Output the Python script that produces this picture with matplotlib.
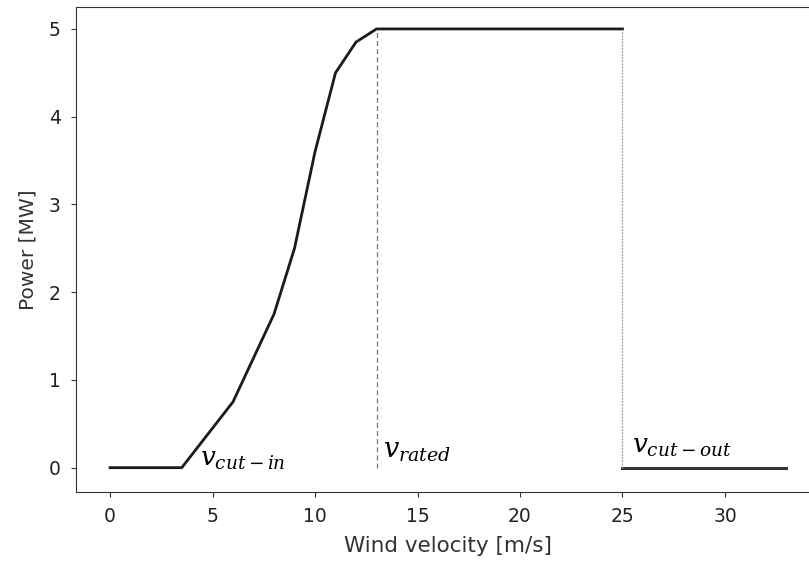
import matplotlib
matplotlib.use("Agg")
import matplotlib.pyplot as plt

# Data
wind_speed = [0, 3.5, 6, 8, 9, 10, 11, 12, 13, 25]
power_mw = [0, 0, 0.75, 1.75, 2.5, 3.6, 4.5, 4.85, 5, 5]
cutout_speed = [25, 33]
cutout_power = [0, 0]
v_rated = 13
v_cutout = 25
xticks = [0, 5, 10, 15, 20, 25, 30]
yticks = [0, 1, 2, 3, 4, 5]

plt.rcParams['mathtext.fontset'] = 'dejavuserif'

fig = plt.figure(figsize=(8.09, 5.67), dpi=100)
ax = fig.add_axes([76.2/809, (567-491.7)/567, (820.3-76.2)/809, (491.7-7)/567])

ax.plot(wind_speed, power_mw, color='#1a1a1a', lw=2)
ax.plot(cutout_speed, cutout_power, color='#333333', lw=2.2)
ax.vlines(v_rated, 0, 5, colors='#777777', linestyles=(0, (4, 2.5)), lw=0.9)
ax.vlines(v_cutout, 0, 5, colors='#999999', linestyles=(0, (1.5, 1)), lw=0.9)

ax.text(4.39, 0.02, r'$v_{cut-in}$', fontsize=19, va='baseline', ha='left')
ax.text(13.3, 0.12, r'$v_{rated}$', fontsize=19.5, va='baseline', ha='left')
ax.text(25.46, 0.17, r'$v_{cut-out}$', fontsize=19, va='baseline', ha='left')

ax.set_xlim(-1.65, 34.65)
ax.set_ylim(-0.274, 5.25)
ax.set_xticks(xticks)
ax.set_yticks(yticks)
ax.tick_params(labelsize=13.5, colors='#333333', labelcolor='#222222', pad=7.5)
ax.set_xlabel('Wind velocity [m/s]', fontsize=15.5, color='#333333', labelpad=7.5)
ax.set_ylabel('Power [MW]', fontsize=14.5, color='#333333', labelpad=8)
ax.spines['right'].set_visible(False)
for s in ['left', 'bottom', 'top']:
    ax.spines[s].set_color('#333333')

fig.savefig('out.png', dpi=100)
